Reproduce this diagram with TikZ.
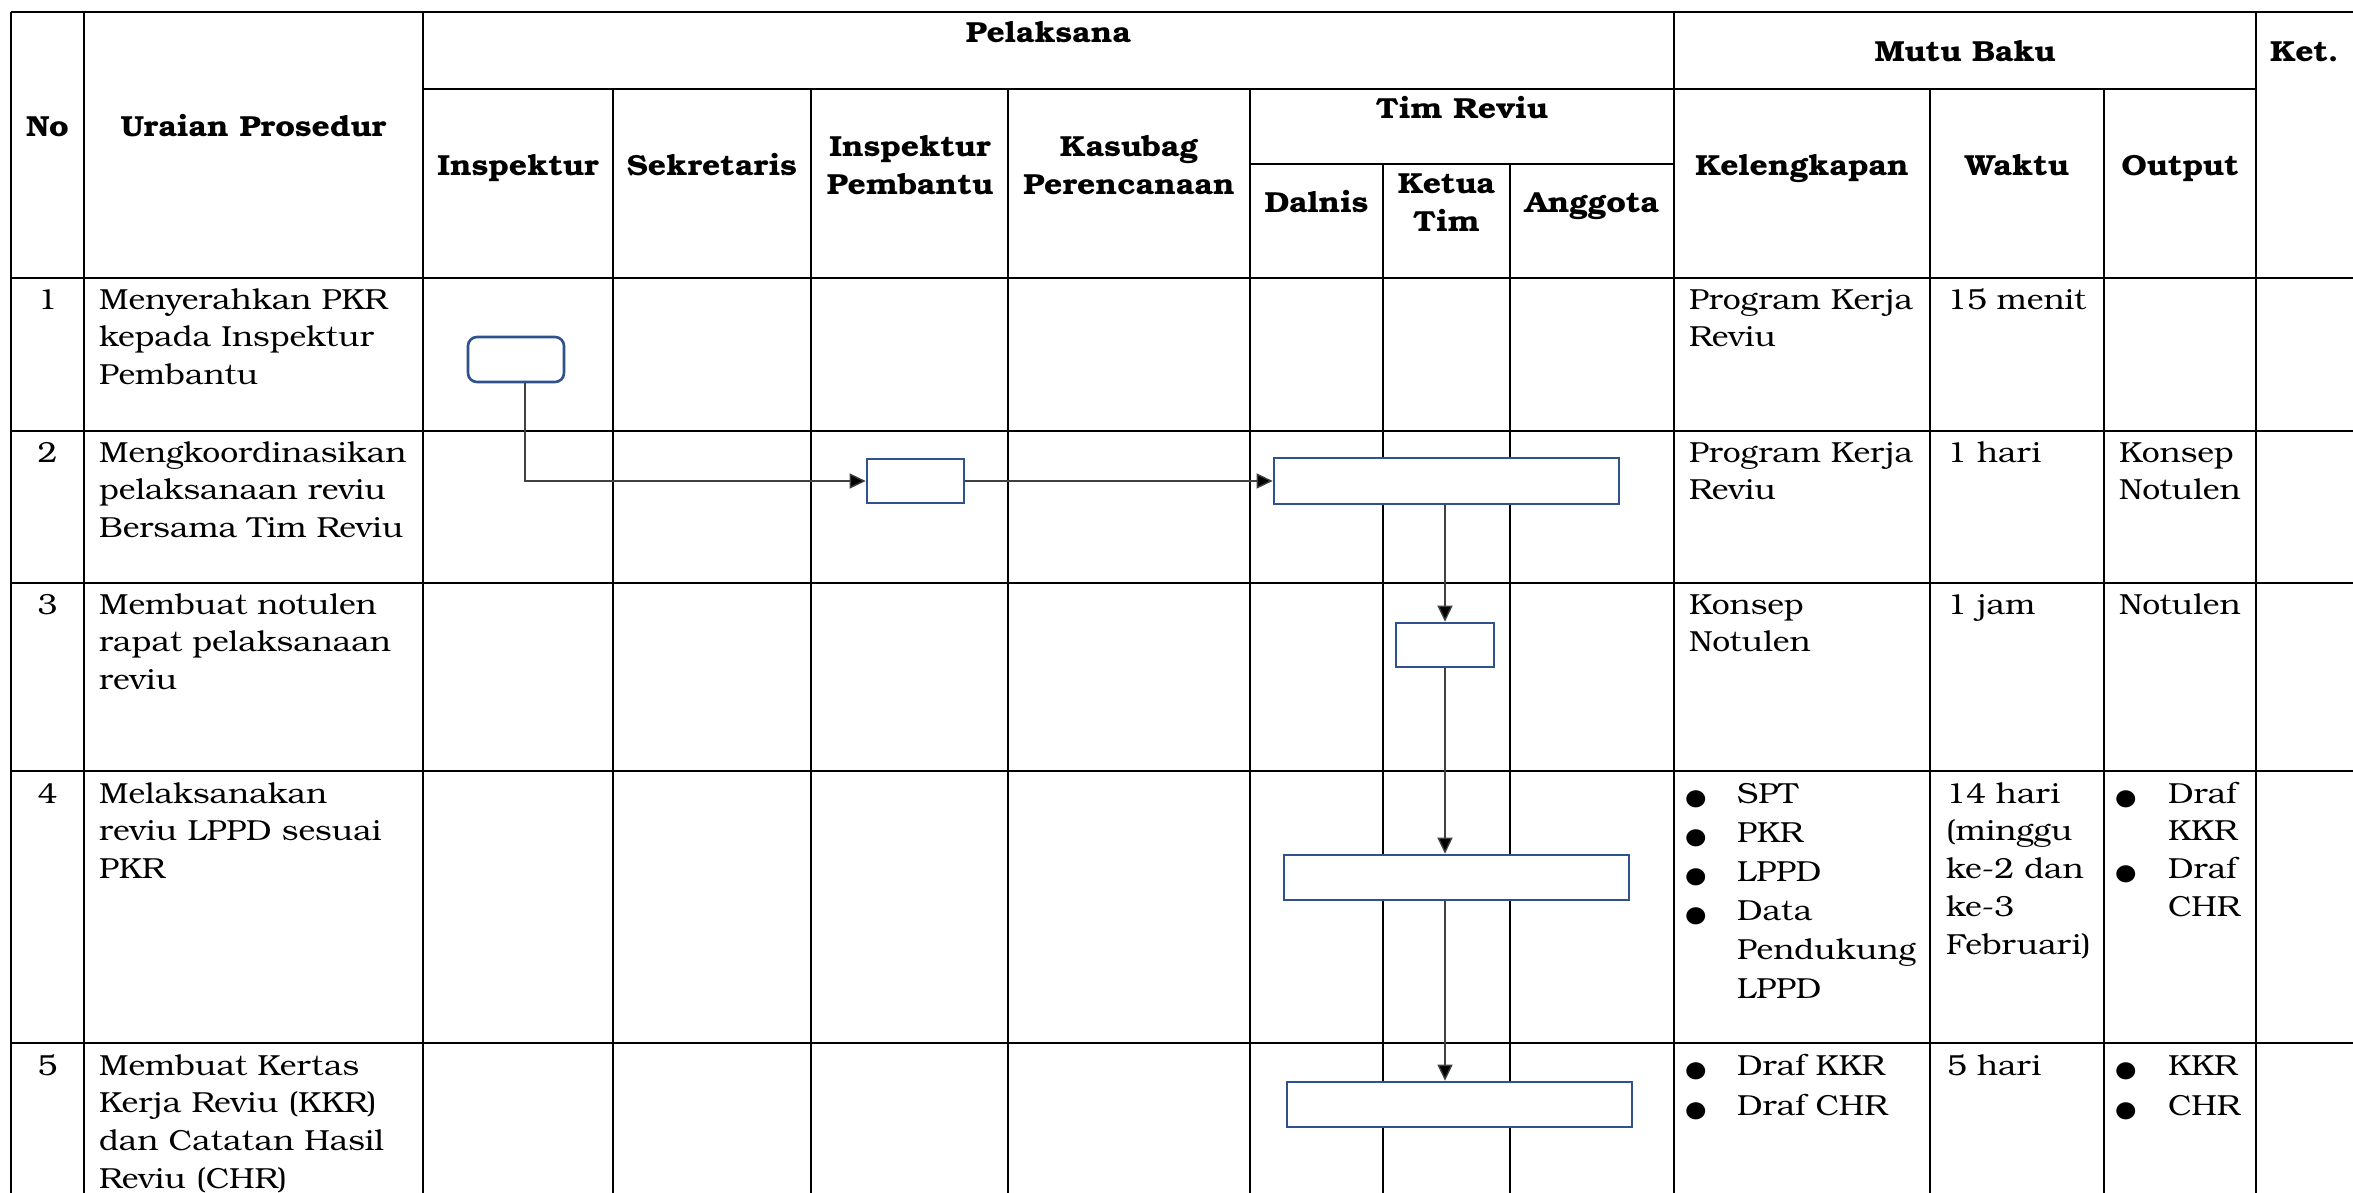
\documentclass[tikz,border=0pt]{standalone}
\usepackage{fontspec}
\usepackage{graphicx}
\setmainfont{TeX Gyre Bonum}[FakeStretch=1.1]
\usetikzlibrary{arrows.meta}

\definecolor{boxblue}{RGB}{47,82,143}
\definecolor{flowgray}{RGB}{64,64,64}

\newcommand{\hdfont}{\fontsize{29}{37.8}\selectfont\bfseries}
\newcommand{\bdfont}{\fontsize{29}{37.8}\selectfont}
\newcommand{\listfont}{\fontsize{29}{39}\selectfont}
\newcommand{\pairfont}{\fontsize{29}{40}\selectfont}
\newcommand{\stackL}[1]{\begin{tabular}[t]{@{}l@{}}#1\end{tabular}}
\newcommand{\stackC}[1]{\begin{tabular}[t]{@{}c@{}}#1\end{tabular}}
% list marker, enlarged and placed by its baseline
\newcommand{\itemdot}{\smash{\scalebox{1.72}{\textbullet}}}

\tikzset{
  gridline/.style={line width=2.6pt, black},
  actbox/.style={draw=boxblue, line width=2.6pt, fill=white, inner sep=0pt},
  flow/.style={line width=1.4pt, draw=flowgray,
    -{Triangle[length=16pt,width=15pt,fill=black]}},
  hd/.style={font=\hdfont, inner sep=0pt, anchor=base},
  bd/.style={font=\bdfont, inner sep=0pt, anchor=base west},
  num/.style={font=\bdfont, inner sep=0pt, anchor=base},
  bul/.style={font=\bdfont, inner sep=0pt, anchor=center},
}

\begin{document}
\begin{tikzpicture}[x=1pt, y=-1pt]
\useasboundingbox (0,0) rectangle (2353,1193);
\fill[white] (0,0) rectangle (2353,1193);

% ---- table rules ----
% horizontal
\draw[gridline] (11,12) -- (2353,12);
\draw[gridline] (423,89) -- (2256,89);
\draw[gridline] (1250,164) -- (1674,164);
\draw[gridline] (11,278) -- (2353,278);
\draw[gridline] (11,431) -- (2353,431);
\draw[gridline] (11,583) -- (2353,583);
\draw[gridline] (11,771) -- (2353,771);
\draw[gridline] (11,1043) -- (2353,1043);
% vertical
\foreach \x in {11,84,423,1674,2256}
  \draw[gridline] (\x,12) -- (\x,1193);
\foreach \x in {613,811,1008,1250,1930,2104}
  \draw[gridline] (\x,89) -- (\x,1193);
\foreach \x in {1383,1510}
  \draw[gridline] (\x,164) -- (\x,1193);

% ---- header ----
\node[hd] (hNo) at (47.5,137) {No};
\node[hd] (hUraian) at (253.5,137) {Uraian Prosedur};
\node[hd] (hPel) at (1048.5,43) {Pelaksana};
\node[hd] (hMutu) at (1965,62) {Mutu Baku};
\node[hd, anchor=base west] (hKet) at (2270,62) {Ket.};
\node[hd] (hInsp) at (518,176) {Inspektur};
\node[hd] (hSek) at (712,176) {Sekretaris};
\node[hd] (hIrban) at (910,157) {\stackC{Inspektur\\Pembantu}};
\node[hd] (hKasubag) at (1129,157) {\stackC{Kasubag\\Perencanaan}};
\node[hd] (hTim) at (1462,119) {Tim Reviu};
\node[hd] (hDalnis) at (1316.5,213) {Dalnis};
\node[hd] (hKetua) at (1446.5,194) {\stackC{Ketua\\Tim}};
\node[hd] (hAnggota) at (1592,213) {Anggota};
\node[hd] (hKel) at (1802,176) {Kelengkapan};
\node[hd] (hWaktu) at (2017,176) {Waktu};
\node[hd] (hOutput) at (2180,176) {Output};

% ---- row 1 ----
\node[num] (n1) at (47.5,309) {1};
\node[bd] (u1) at (99,309) {\stackL{Menyerahkan PKR\\kepada Inspektur\\Pembantu}};
\node[bd] (k1) at (1689,309) {\stackL{Program Kerja\\Reviu}};
\node[bd] (w1) at (1947,309) {15 menit};

% ---- row 2 ----
\node[num] (n2) at (47.5,462) {2};
\node[bd] (u2) at (99,462) {\stackL{Mengkoordinasikan\\pelaksanaan reviu\\Bersama Tim Reviu}};
\node[bd] (k2) at (1689,462) {\stackL{Program Kerja\\Reviu}};
\node[bd] (w2) at (1947,462) {1 hari};
\node[bd] (o2) at (2119,462) {\stackL{Konsep\\Notulen}};

% ---- row 3 ----
\node[num] (n3) at (47.5,614) {3};
\node[bd] (u3) at (99,614) {\stackL{Membuat notulen\\rapat pelaksanaan\\reviu}};
\node[bd] (k3) at (1689,614) {\stackL{Konsep\\Notulen}};
\node[bd] (w3) at (1947,614) {1 jam};
\node[bd] (o3) at (2119,614) {Notulen};

% ---- row 4 ----
\node[num] (n4) at (47.5,803) {4};
\node[bd] (u4) at (99,803) {\stackL{Melaksanakan\\reviu LPPD sesuai\\PKR}};
\node[bd, font=\listfont] (k4t) at (1737,803)
  {\stackL{SPT\\PKR\\LPPD\\Data\\Pendukung\\LPPD}};
\node[bul] (k4b1) at (1696,818) {\itemdot};
\node[bul] (k4b2) at (1696,857) {\itemdot};
\node[bul] (k4b3) at (1696,896) {\itemdot};
\node[bul] (k4b4) at (1696,935) {\itemdot};
\node[bd] (w4) at (1946,803) {\stackL{14 hari\\(minggu\\ke-2 dan\\ke-3\\Februari)}};
\node[bd] (o4t) at (2168,803) {\stackL{Draf\\KKR\\Draf\\CHR}};
\node[bul] (o4b1) at (2126,818) {\itemdot};
\node[bul] (o4b2) at (2126,893.6) {\itemdot};

% ---- row 5 ----
\node[num] (n5) at (47.5,1075) {5};
\node[bd] (u5) at (99,1075) {\stackL{Membuat Kertas\\Kerja Reviu (KKR)\\dan Catatan Hasil\\Reviu (CHR)}};
\node[bd, font=\pairfont] (k5t) at (1737,1075) {\stackL{Draf KKR\\Draf CHR}};
\node[bul] (k5b1) at (1696,1090) {\itemdot};
\node[bul] (k5b2) at (1696,1130) {\itemdot};
\node[bd] (w5) at (1947,1075) {5 hari};
\node[bd, font=\pairfont] (o5t) at (2168,1075) {\stackL{KKR\\CHR}};
\node[bul] (o5b1) at (2126,1090) {\itemdot};
\node[bul] (o5b2) at (2126,1130) {\itemdot};

% ---- flow symbols ----
\node[actbox, rounded corners=9pt, minimum width=96pt, minimum height=45pt] (b1) at (516,359.5) {};
\node[actbox, minimum width=97pt, minimum height=44pt] (b2) at (915.5,481) {};
\node[actbox, minimum width=345pt, minimum height=46pt] (b3) at (1446.5,481) {};
\node[actbox, minimum width=98pt, minimum height=44pt] (b4) at (1445,645) {};
\node[actbox, minimum width=345pt, minimum height=45pt] (b5) at (1456.5,877.5) {};
\node[actbox, minimum width=345pt, minimum height=45pt] (b6) at (1459.5,1104.5) {};

% ---- connectors ----
\draw[flow] ([xshift=9pt]b1.south) |- (b2.west);
\draw[flow] (b2.east) -- (b3.west);
\draw[flow] (b4.north |- b3.south) -- (b4.north);
\draw[flow] (b4.south) -- (b4.south |- b5.north);
\draw[flow] (b4.south |- b5.south) -- (b4.south |- b6.north);
\end{tikzpicture}
\end{document}
